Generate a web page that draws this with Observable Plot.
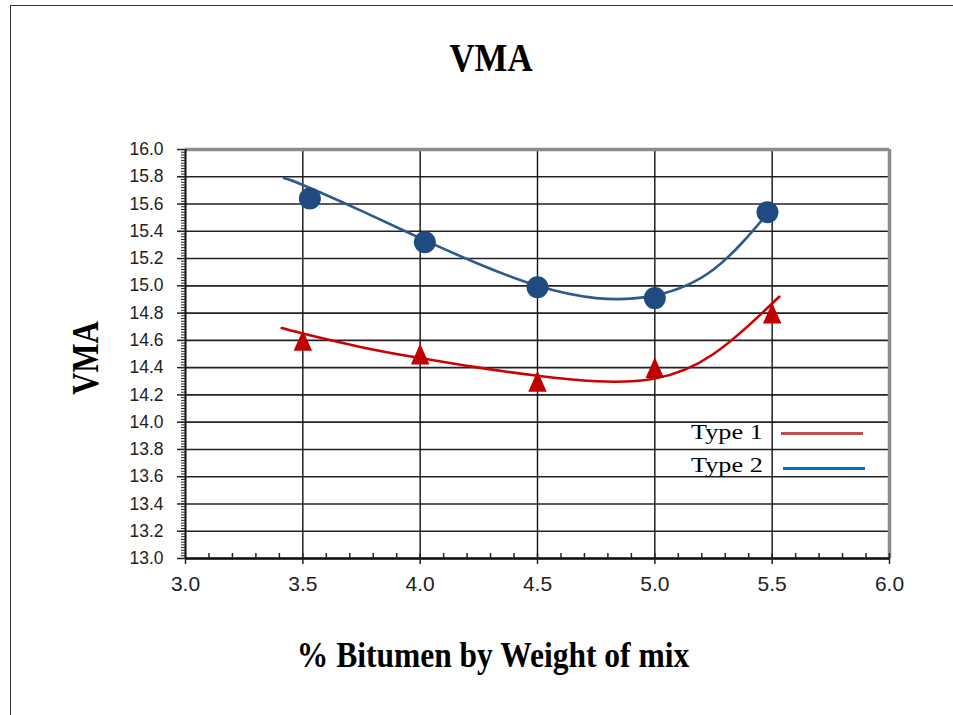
<!DOCTYPE html>
<html>
<head>
<meta charset="utf-8">
<script src="https://cdn.jsdelivr.net/npm/d3@7"></script>
<script src="https://cdn.jsdelivr.net/npm/@observablehq/plot@0.6"></script>
<style>
  html, body { margin: 0; padding: 0; background: #fff; overflow: hidden; }
  #page { position: relative; width: 953px; height: 715px; overflow: hidden; }
  #frame { position: absolute; left: 10px; top: 5px; width: 1000px; height: 800px;
           border-left: 1.5px solid #333; border-top: 1.5px solid #333; }
  #chart { position: absolute; left: 0; top: 0; }
  .lbl { position: absolute; white-space: nowrap; color: #000;
         font-family: "Liberation Serif", "Times New Roman", serif; font-weight: bold; line-height: 1; }
  #title { left: 0; width: 982px; text-align: center; top: 37px; font-size: 41px; transform: scaleX(0.85); }
  #xlabel { left: 0; width: 986px; text-align: center; top: 638px; font-size: 35px; transform: scaleX(0.9); }
  #ylabel { left: 85px; top: 358px; font-size: 38px; transform: translate(-50%, -50%) rotate(-90deg) scaleX(0.81); }
  #legend { position: absolute; left: 600px; top: 418px; width: 280px; }
  .item { position: absolute; left: 0; width: 280px; height: 30px; }
  .item span.t { position: absolute; right: 117px; top: 2px; font-family: "Liberation Serif", "Times New Roman", serif;
                 font-size: 21.5px; transform-origin: right center; transform: scaleX(1.22); color: #000; }
  .item span.k { position: absolute; height: 3px; width: 82px; }
</style>
</head>
<body>
<div id="page">
  <div id="frame"></div>
  <div id="chart"></div>
  <div class="lbl" id="title">VMA</div>
  <div class="lbl" id="ylabel">VMA</div>
  <div class="lbl" id="xlabel">% Bitumen by Weight of mix</div>
  <div id="legend"></div>
</div>
<script>
// Measured points: % bitumen vs VMA
const bitumenType1 = [3.5, 4.0, 4.5, 5.0, 5.5];
const vmaType1     = [14.6, 14.5, 14.3, 14.4, 14.8];
const bitumenType2 = [3.53, 4.02, 4.5, 5.0, 5.48];
const vmaType2     = [15.64, 15.32, 14.99, 14.91, 15.54];

// Trend curves through each series
const trendBitumenType1 = [3.41, 3.5, 3.75, 4.0, 4.25, 4.5, 4.75, 5.0, 5.25, 5.53];
const trendVmaType1     = [14.69, 14.65, 14.55, 14.47, 14.40, 14.34, 14.30, 14.32, 14.50, 14.92];
const trendBitumenType2 = [3.42, 3.5, 3.75, 4.0, 4.25, 4.5, 4.75, 5.0, 5.25, 5.48];
const trendVmaType2     = [15.79, 15.74, 15.55, 15.35, 15.16, 15.00, 14.91, 14.93, 15.12, 15.53];

// Axis tick values
const xTickValues = [3.0, 3.5, 4.0, 4.5, 5.0, 5.5, 6.0];
const yTickValues = [13.0, 13.2, 13.4, 13.6, 13.8, 14.0, 14.2, 14.4, 14.6, 14.8, 15.0, 15.2, 15.4, 15.6, 15.8, 16.0];
const xGridValues = [3.5, 4.0, 4.5, 5.0, 5.5];

const seriesNames  = ["Type 1", "Type 2"];
const seriesColors = ["#c0504d", "#0070c0"];

const minorX = d3.range(30, 61, 1).map(d => d / 10);
const minorY = d3.range(650, 801, 1).map(d => d / 50);

const pts1 = bitumenType1.map((x, i) => ({x, y: vmaType1[i]}));
const pts2 = bitumenType2.map((x, i) => ({x, y: vmaType2[i]}));
const trend1 = trendBitumenType1.map((x, i) => ({x, y: trendVmaType1[i]}));
const trend2 = trendBitumenType2.map((x, i) => ({x, y: trendVmaType2[i]}));

// Tall isosceles triangle centred on its bounding box
const tallTriangle = {
  draw(ctx, size) {
    const r = Math.sqrt(size / Math.PI);
    const w = r * 1.68, h = r * 1.9;
    ctx.moveTo(0, -h / 2);
    ctx.lineTo(w / 2, h / 2);
    ctx.lineTo(-w / 2, h / 2);
    ctx.closePath();
  }
};

const chart = Plot.plot({
  width: 953,
  height: 715,
  marginLeft: 185,
  marginRight: 64,
  marginTop: 149,
  marginBottom: 157,
  style: {fontFamily: "'Liberation Sans', Arial, sans-serif", color: "#222", background: "transparent"},
  x: {domain: [3, 6]},
  y: {domain: [13, 16]},
  marks: [
    Plot.gridY(yTickValues, {stroke: "#222", strokeOpacity: 1, strokeWidth: 1.6}),
    Plot.gridX(xGridValues, {stroke: "#111", strokeOpacity: 1, strokeWidth: 1.4}),
    Plot.ruleY([16], {stroke: "#8c8c8c", strokeWidth: 3.5}),
    Plot.ruleX([6], {stroke: "#8c8c8c", strokeWidth: 3.5}),
    Plot.ruleX([3], {stroke: "#111", strokeWidth: 2}),
    Plot.ruleY([13], {stroke: "#111", strokeWidth: 2.5}),
    Plot.axisY({ticks: minorY, tickSize: 4, tickFormat: () => "", label: null, stroke: "#222"}),
    Plot.axisY({ticks: yTickValues, tickSize: 8, tickPadding: 14, tickFormat: d => d.toFixed(1),
                fontSize: 17.5, label: null, stroke: "#222", strokeWidth: 1.5}),
    Plot.axisX({ticks: minorX, tickSize: 5, dy: -5, tickFormat: () => "", label: null, stroke: "#222", strokeWidth: 1.5}),
    Plot.axisX({ticks: xTickValues, tickSize: 6, tickPadding: 12, tickFormat: d => d.toFixed(1),
                fontSize: 21, label: null, stroke: "#222", strokeWidth: 1.5}),
    Plot.line(trend2, {x: "x", y: "y", curve: "natural", stroke: "#2a5a8e", strokeWidth: 2.6}),
    Plot.line(trend1, {x: "x", y: "y", curve: "natural", stroke: "#cc0000", strokeWidth: 2.6}),
    Plot.dot(pts2, {x: "x", y: "y", r: 11, symbol: "circle", fill: "#1f4b80"}),
    Plot.dot(pts1, {x: "x", y: "y", r: 11, symbol: tallTriangle, fill: "#c00000"})
  ]
});
document.getElementById("chart").appendChild(chart);

// Legend: name then a line sample
const legend = d3.select("#legend");
seriesNames.forEach((name, i) => {
  const item = legend.append("div").attr("class", "item").style("top", (i * 33) + "px");
  item.append("span").attr("class", "t").text(name);
  item.append("span").attr("class", "k")
    .style("left", (181 + i * 2) + "px")
    .style("top", (14 + i * 2) + "px")
    .style("background", seriesColors[i]);
});
</script>
</body>
</html>
